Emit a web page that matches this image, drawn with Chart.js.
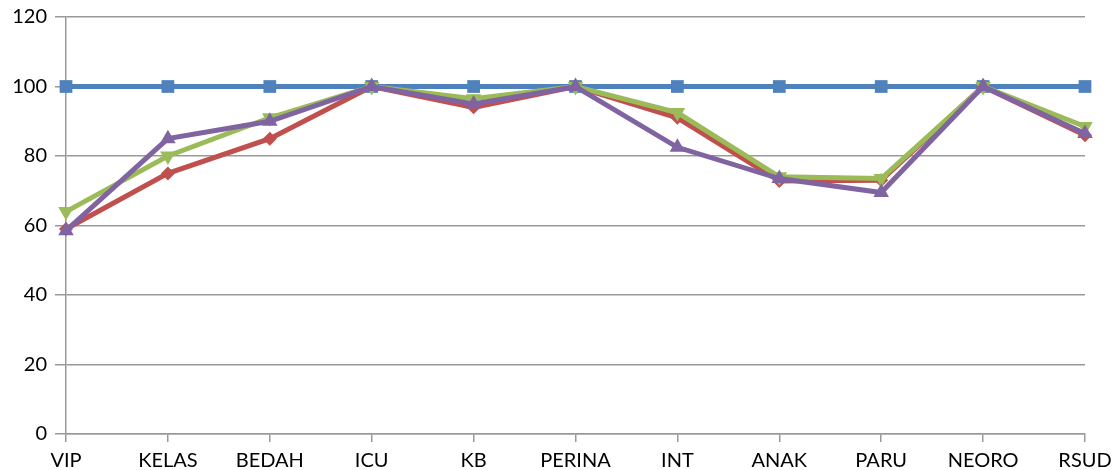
<!DOCTYPE html>
<html>
<head>
<meta charset="utf-8">
<script src="https://cdn.jsdelivr.net/npm/chart.js@4/dist/chart.umd.min.js"></script>
<style>
  html, body { margin: 0; padding: 0; background: #fff; }
</style>
</head>
<body>
<canvas id="chart1" width="1114" height="470"></canvas>
<script>
// values
const categories = ["VIP", "KELAS", "BEDAH", "ICU", "KB", "PERINA", "INT", "ANAK", "PARU", "NEORO", "RSUD"];
const yTicks = [0, 20, 40, 60, 80, 100, 120];

const blueValues = [100, 100, 100, 100, 100, 100, 100, 100, 100, 100, 100];
const redValues = [59, 75, 85, 100, 94, 100, 91, 72.8, 73, 100, 86];
const greenValues = [64, 80, 91, 100, 96.5, 100, 92.5, 74, 73.5, 100, 88.5];
const purpleValues = [58.5, 85, 90, 100, 95, 100, 82.5, 73.5, 69.5, 100, 86.5];

// order: higher number is drawn first (underneath)
function makeSet(values, color, style, size, rotation, order) {
    return {
        data: values,
        borderColor: color,
        backgroundColor: color,
        borderWidth: 5,
        pointStyle: style,
        pointRadius: size,
        pointRotation: rotation || 0,
        pointBorderWidth: 0,
        pointBackgroundColor: color,
        tension: 0,
        clip: false,
        order: order
    };
}

// let the layout padding alone decide where the plot area sits
function noEdgePadding(scale) {
    scale.paddingTop = 0;
    scale.paddingBottom = 0;
    scale.paddingLeft = 0;
    scale.paddingRight = 0;
}

let canvas = document.getElementById("chart1");

new Chart(canvas, {
    type: "line",
    data: {
        labels: categories,
        datasets: [
            makeSet(blueValues, "#4F81BD", "rect", 9, 0, 4),
            makeSet(redValues, "#C0504D", "rectRot", 7, 0, 3),
            makeSet(greenValues, "#9BBB59", "triangle", 9, 180, 2),
            makeSet(purpleValues, "#8064A2", "triangle", 9, 0, 1)
        ]
    },
    options: {
        responsive: false,
        animation: false,
        devicePixelRatio: 1,
        layout: { padding: { top: 17, right: 29, left: 0, bottom: 0 } },
        plugins: { legend: { display: false }, tooltip: { enabled: false } },
        scales: {
            x: {
                offset: false,
                grid: { display: true, drawOnChartArea: false, drawTicks: true, tickLength: 8, color: "#999", lineWidth: 1.5 },
                border: { display: true, color: "#999", width: 1.5 },
                ticks: { color: "#000", font: { family: "Lato", size: 20 }, padding: 7, maxRotation: 0, autoSkip: false },
                afterFit: function (scale) { scale.height = 36; noEdgePadding(scale); }
            },
            y: {
                min: 0,
                max: 120,
                afterBuildTicks: function (scale) { scale.ticks = yTicks.map(v => ({ value: v })); },
                grid: { color: "#999", lineWidth: 1.5, tickLength: 11 },
                border: { display: true, color: "#999", width: 1.5 },
                ticks: { color: "#000", font: { family: "Lato", size: 20 }, padding: 8 },
                afterFit: function (scale) { scale.width = 66; noEdgePadding(scale); }
            }
        }
    }
});
</script>
</body>
</html>
